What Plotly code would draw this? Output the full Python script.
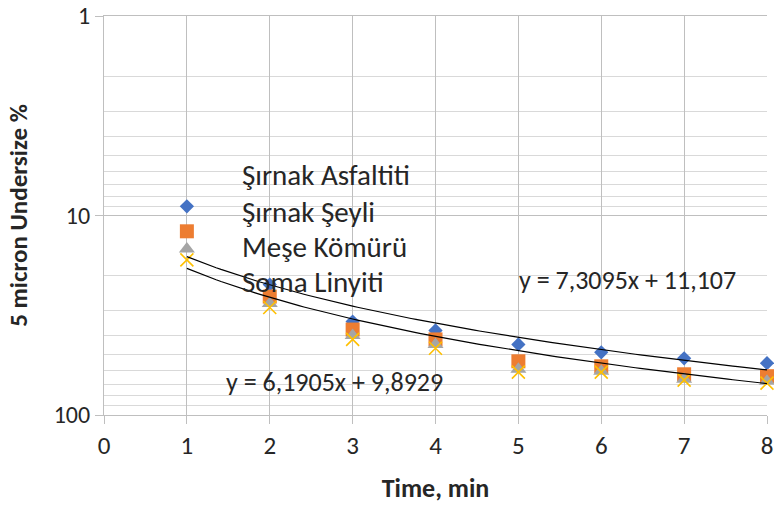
import numpy as np
import plotly.graph_objects as go

# Grinding time (min)
time_min = [1, 2, 3, 4, 5, 6, 7, 8]

# 5 micron undersize (%) per sample
sirnak_asfaltiti = [9.0, 22.2, 34.0, 37.7, 44.3, 48.5, 52.0, 55.0]
sirnak_seyli = [12.0, 25.5, 37.3, 41.8, 53.8, 57.0, 62.5, 63.9]
mese_komuru = [14.7, 27.6, 39.9, 44.3, 59.0, 60.3, 66.1, 67.7]
soma_linyiti = [16.7, 28.9, 41.8, 46.3, 61.0, 61.0, 66.9, 69.2]

series_names = ["Şırnak Asfaltiti", "Şırnak Şeyli", "Meşe Kömürü", "Soma Linyiti"]

# Linear trendlines (slope, intercept) as stated by their labels
trend_asfaltiti = (6.1905, 9.8929)
trend_seyli = (7.3095, 11.107)

x_ticks = [0, 1, 2, 3, 4, 5, 6, 7, 8]
y_major = [1, 10, 100]
y_minor = [2, 3, 4, 5, 6, 7, 8, 9, 20, 30, 40, 50, 60, 70, 80, 90]

FONT = "Carlito, Lato, sans-serif"
TXT = "#262626"

fig = go.Figure()

marker_styles = [
    dict(symbol="diamond", size=11, color="#4472C4"),
    dict(symbol="square", size=14, color="#ED7D31"),
    dict(symbol="triangle-up", size=14, color="#A5A5A5"),
    dict(symbol="x-thin", size=13, color="#FFC000", line=dict(color="#FFC000", width=1.6)),
]
for name, vals, mk in zip(series_names,
                          [sirnak_asfaltiti, sirnak_seyli, mese_komuru, soma_linyiti],
                          marker_styles):
    fig.add_trace(go.Scatter(x=time_min, y=vals, mode="markers", name=name,
                             marker=mk, showlegend=False, cliponaxis=False))

tx = np.linspace(time_min[0], time_min[-1], 120)
for slope, intercept in (trend_asfaltiti, trend_seyli):
    fig.add_trace(go.Scatter(x=tx, y=slope * tx + intercept, mode="lines",
                             line=dict(color="#000000", width=1.2),
                             showlegend=False, hoverinfo="skip"))

# Legend entries as text labels
legend_y_px = [175, 212, 247, 282]
H, T, B = 508, 16, 93
plot_h = H - T - B
for name, ypx in zip(series_names, legend_y_px):
    fig.add_annotation(text=name, xref="paper", yref="paper",
                       x=(240 - 104) / 663, y=1 - (ypx - T) / plot_h,
                       xanchor="left", yanchor="middle", showarrow=False,
                       font=dict(family=FONT, size=29, color=TXT))

# Trendline equation labels
fig.add_annotation(text="y = 7,3095x + 11,107", xref="paper", yref="paper",
                   x=(517 - 104) / 663, y=1 - (280 - T) / plot_h,
                   xanchor="left", yanchor="middle", showarrow=False,
                   font=dict(family=FONT, size=26, color=TXT))
fig.add_annotation(text="y = 6,1905x + 9,8929", xref="paper", yref="paper",
                   x=(224 - 104) / 663, y=1 - (382 - T) / plot_h,
                   xanchor="left", yanchor="middle", showarrow=False,
                   font=dict(family=FONT, size=26, color=TXT))

fig.update_layout(
    width=774, height=508,
    margin=dict(l=104, r=7, t=T, b=B),
    paper_bgcolor="white", plot_bgcolor="white",
    font=dict(family=FONT, color=TXT),
    showlegend=False,
    xaxis=dict(
        range=[0, 8], tickvals=x_ticks, ticks="outside", ticklen=8, automargin=False,
        tickcolor="#BFBFBF", showgrid=True, gridcolor="#BFBFBF", gridwidth=1,
        showline=True, linecolor="#BFBFBF", linewidth=1, zeroline=False, mirror=True,
        tickfont=dict(family=FONT, size=25, color=TXT), ticklabeloverflow="allow",
        title=dict(text="<b>Time, min</b>", font=dict(family=FONT, size=26, color=TXT),
                   standoff=18),
    ),
    yaxis=dict(
        type="log", range=[2, 0], tickvals=y_major, ticktext=["1", "10", "100"],
        ticks="outside", ticklen=8, tickcolor="#BFBFBF", automargin=False,
        showgrid=True, gridcolor="#BFBFBF", gridwidth=1,
        showline=True, linecolor="#BFBFBF", linewidth=1, zeroline=False,
        minor=dict(tickvals=y_minor, showgrid=True, gridcolor="#D9D9D9", ticks=""),
        tickfont=dict(family=FONT, size=24, color=TXT), ticklabeloverflow="allow",
        title=dict(text="<b>5 micron Undersize %</b>",
                   font=dict(family=FONT, size=25, color=TXT), standoff=18),
    ),
)

fig.write_html("out.html")
